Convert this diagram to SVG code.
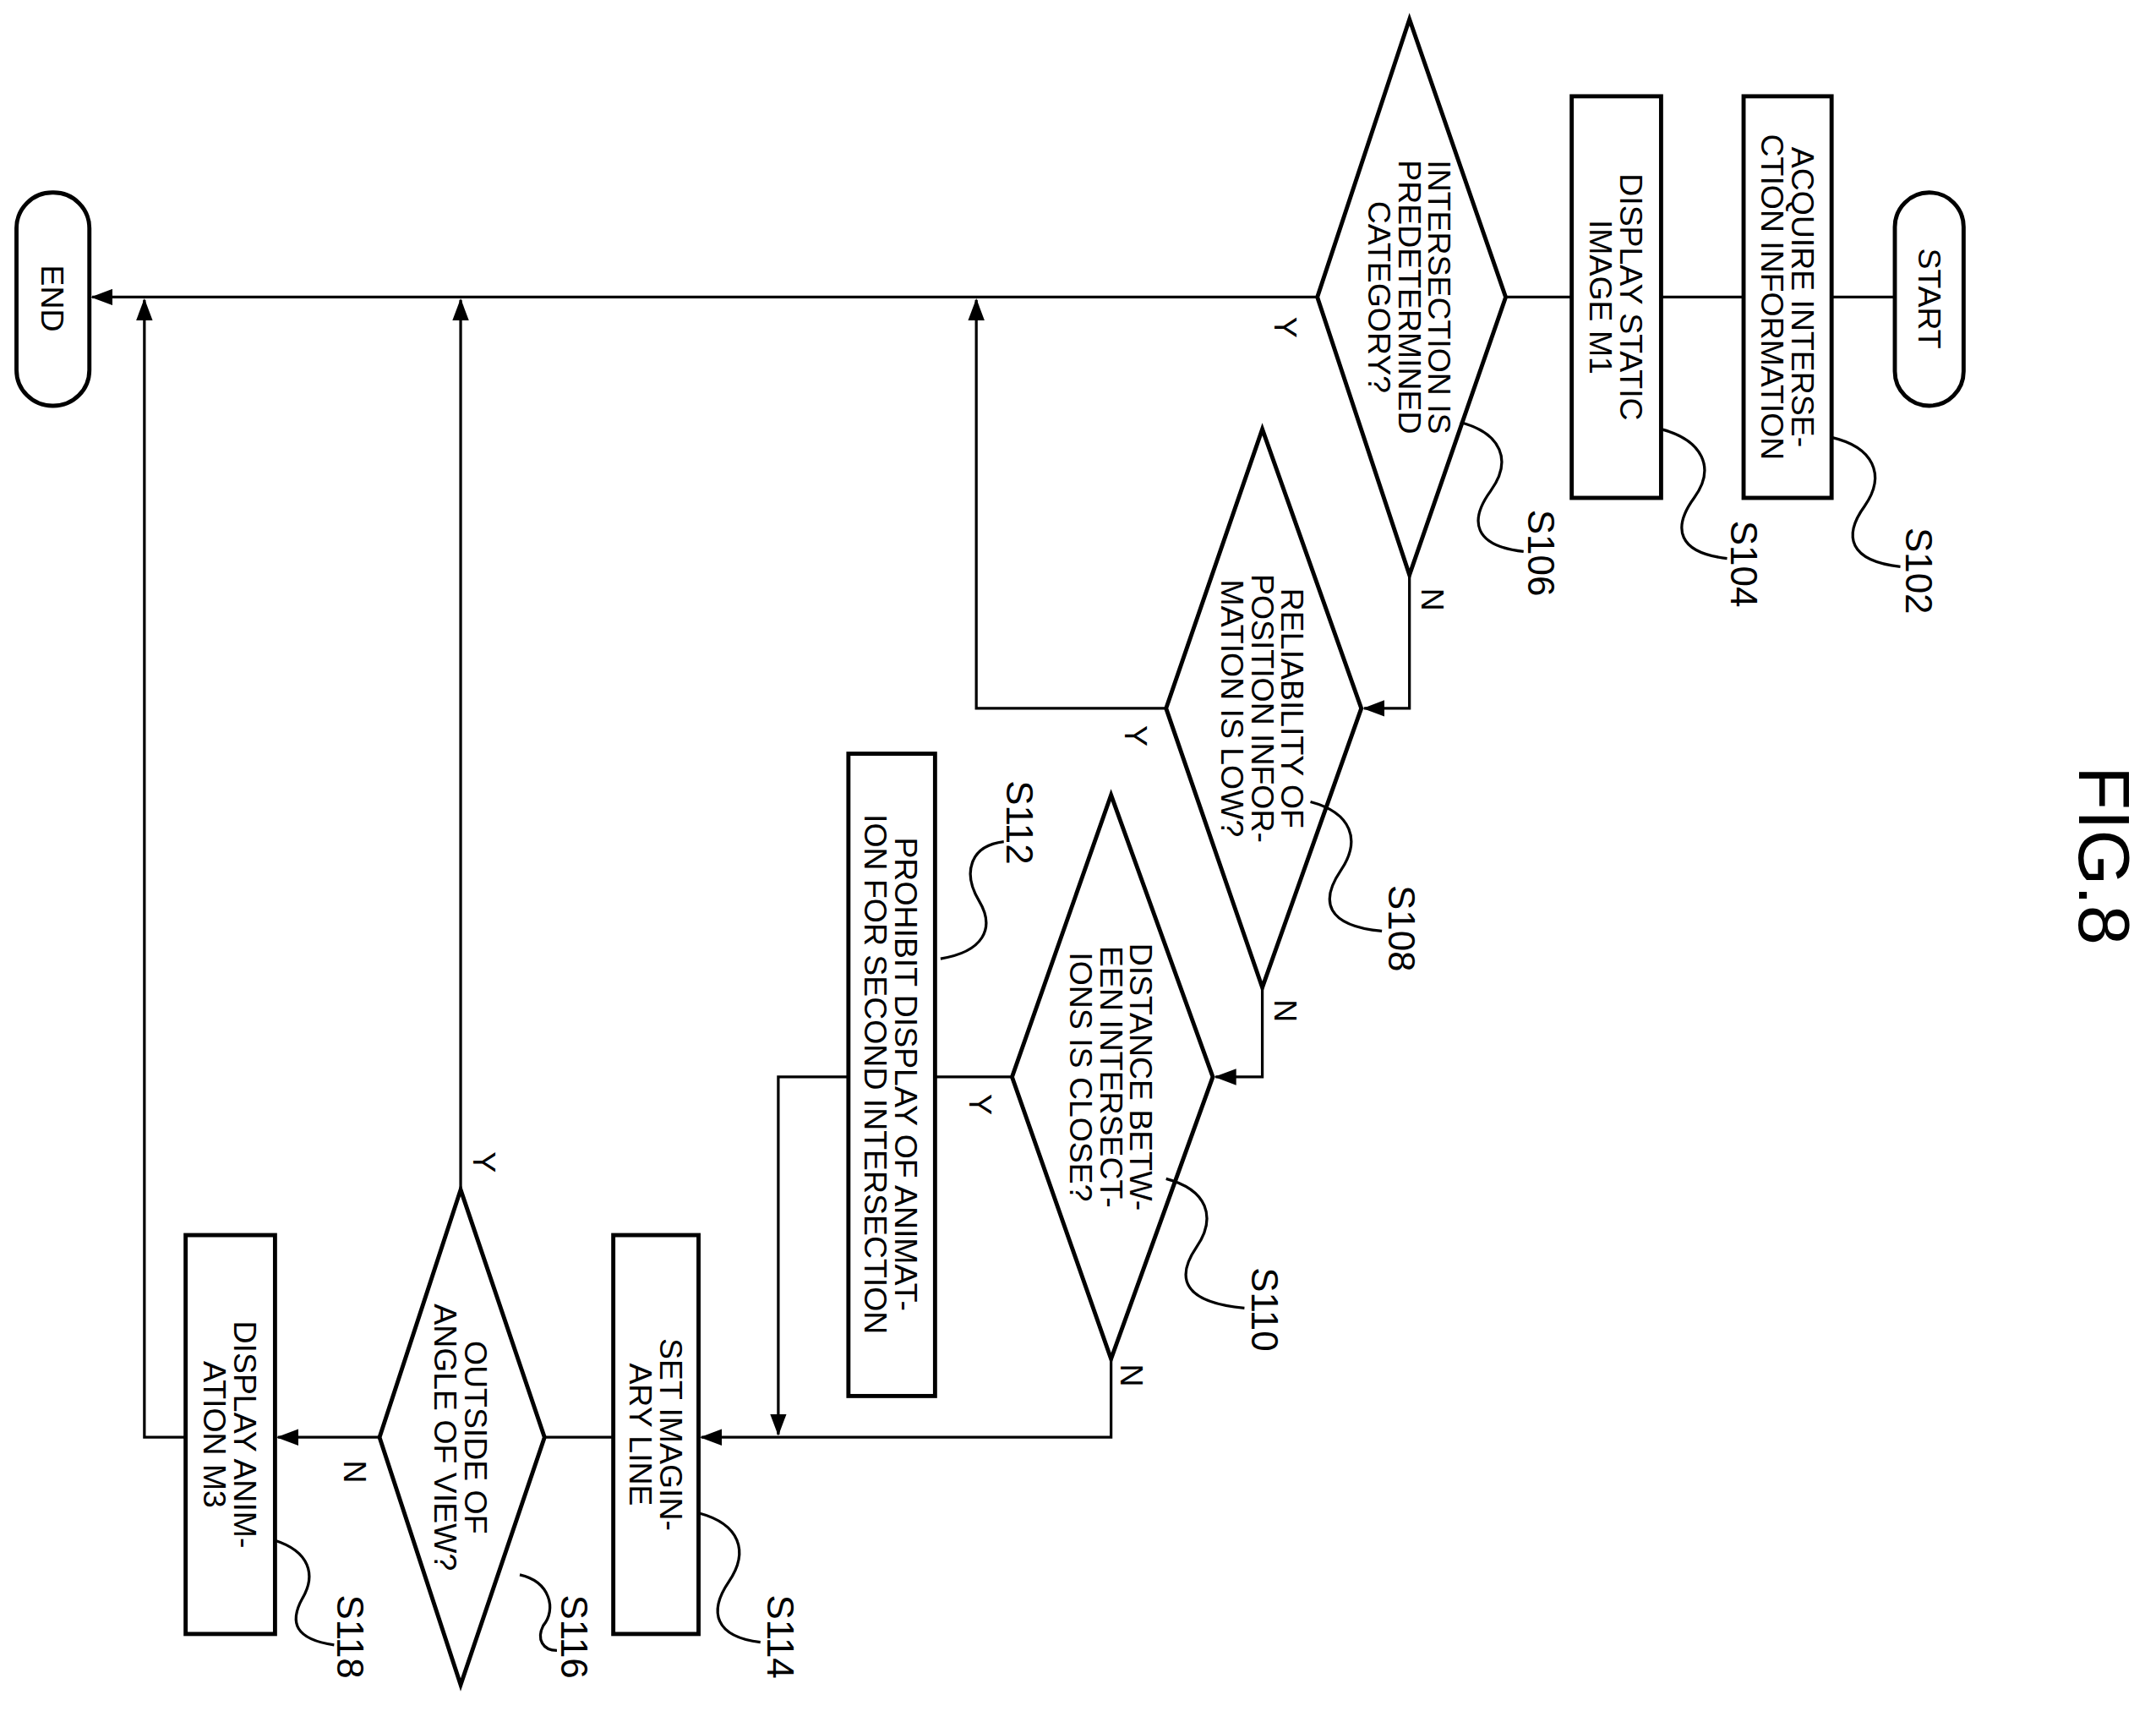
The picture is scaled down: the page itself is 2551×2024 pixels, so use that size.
<svg xmlns="http://www.w3.org/2000/svg" width="2551" height="2024" viewBox="0 0 2551 2024">
<defs>
<style>
.b{fill:#fff;stroke:#000;stroke-width:3}
.l{fill:none;stroke:#000;stroke-width:2}
.t{font-family:"Liberation Sans",Arial,sans-serif;font-size:23px;text-anchor:middle}
.s{font-family:"Liberation Sans",Arial,sans-serif;font-size:27px;text-anchor:middle}
</style>
<marker id="a" markerUnits="userSpaceOnUse" markerWidth="16" markerHeight="12" refX="15" refY="6" orient="auto"><path d="M0,0 L16,6 L0,12 Z" fill="#000"/></marker>
</defs>
<rect width="2551" height="2024" fill="#fff"/>
<g transform="scale(1.627)">
<g id="connectors">
<path class="l" d="M1378,216 H67" marker-end="url(#a)"/>
<path class="l" d="M1025,418 V515 H992" marker-end="url(#a)"/>
<path class="l" d="M848,515 H710 V218" marker-end="url(#a)"/>
<path class="l" d="M918,718 V783 H884" marker-end="url(#a)"/>
<path class="l" d="M736,783 H566 V1043" marker-end="url(#a)"/>
<path class="l" d="M808,988 V1045 H510" marker-end="url(#a)"/>
<path class="l" d="M446,1045 H396"/>
<path class="l" d="M335,865 V218" marker-end="url(#a)"/>
<path class="l" d="M276,1045 H202" marker-end="url(#a)"/>
<path class="l" d="M135,1045 H105 V218" marker-end="url(#a)"/>
</g>
<g id="start"><rect class="b" x="1378" y="140" width="50" height="155" rx="25"/><text class="t" transform="translate(1403,217) rotate(90)" y="8">START</text></g>
<g id="end"><rect class="b" x="12" y="140" width="53" height="155" rx="26"/><text class="t" transform="translate(38,217) rotate(90)" y="8">END</text></g>
<g id="s102"><rect class="b" x="1268" y="70" width="64" height="292"/><text class="t" transform="translate(1300,216) rotate(90)"><tspan x="0" y="-3">ACQUIRE INTERSE-</tspan><tspan x="0" y="19">CTION INFORMATION</tspan></text></g>
<g id="s104"><rect class="b" x="1143" y="70" width="65" height="292"/><text class="t" transform="translate(1175,216) rotate(90)"><tspan x="0" y="-3">DISPLAY STATIC</tspan><tspan x="0" y="19">IMAGE M1</tspan></text></g>
<g id="s106"><path class="b" d="M1025,14 L1095,216 L1025,418 L958,216 Z"/><text class="t" transform="translate(1025,216) rotate(90)"><tspan x="0" y="-14">INTERSECTION IS</tspan><tspan x="0" y="8">PREDETERMINED</tspan><tspan x="0" y="30">CATEGORY?</tspan></text></g>
<g id="s108"><path class="b" d="M918,312 L990,515 L918,718 L848,515 Z"/><text class="t" transform="translate(918,515) rotate(90)"><tspan x="0" y="-14">RELIABILITY OF</tspan><tspan x="0" y="8">POSITION INFOR-</tspan><tspan x="0" y="30">MATION IS LOW?</tspan></text></g>
<g id="s110"><path class="b" d="M808,578 L882,783 L808,988 L736,783 Z"/><text class="t" transform="translate(808,783) rotate(90)"><tspan x="0" y="-14">DISTANCE BETW-</tspan><tspan x="0" y="8">EEN INTERSECT-</tspan><tspan x="0" y="30">IONS IS CLOSE?</tspan></text></g>
<g id="s112"><rect class="b" x="617" y="548" width="63" height="467"/><text class="t" transform="translate(648,781) rotate(90)"><tspan x="0" y="-3">PROHIBIT DISPLAY OF ANIMAT-</tspan><tspan x="0" y="19">ION FOR SECOND INTERSECTION</tspan></text></g>
<g id="s114"><rect class="b" x="446" y="898" width="62" height="290"/><text class="t" transform="translate(477,1043) rotate(90)"><tspan x="0" y="-3">SET IMAGIN-</tspan><tspan x="0" y="19">ARY LINE</tspan></text></g>
<g id="s116"><path class="b" d="M335,865 L396,1045 L335,1225 L276,1045 Z"/><text class="t" transform="translate(335,1045) rotate(90)"><tspan x="0" y="-3">OUTSIDE OF</tspan><tspan x="0" y="19">ANGLE OF VIEW?</tspan></text></g>
<g id="s118"><rect class="b" x="135" y="898" width="65" height="290"/><text class="t" transform="translate(167,1043) rotate(90)"><tspan x="0" y="-3">DISPLAY ANIM-</tspan><tspan x="0" y="19">ATION M3</tspan></text></g>
<g id="yn">
<text class="t" transform="translate(935,238) rotate(90)" y="8">Y</text>
<text class="t" transform="translate(1042,436) rotate(90)" y="8">N</text>
<text class="t" transform="translate(826,535) rotate(90)" y="8">Y</text>
<text class="t" transform="translate(935,735) rotate(90)" y="8">N</text>
<text class="t" transform="translate(713,803) rotate(90)" y="8">Y</text>
<text class="t" transform="translate(823,1000) rotate(90)" y="8">N</text>
<text class="t" transform="translate(352,845) rotate(90)" y="8">Y</text>
<text class="t" transform="translate(258,1070) rotate(90)" y="8">N</text>
</g>
<g id="labels">
<path class="l" d="M1332,318 C1362,325 1372,345 1356,368 C1340,390 1345,408 1382,412"/>
<text class="s" transform="translate(1396,415) rotate(90)" y="10">S102</text>
<path class="l" d="M1208,312 C1238,320 1248,340 1232,362 C1216,384 1220,402 1256,406"/>
<text class="s" transform="translate(1269,410) rotate(90)" y="10">S104</text>
<path class="l" d="M1062,307 C1092,315 1100,335 1084,357 C1068,379 1072,397 1108,401"/>
<text class="s" transform="translate(1121,402) rotate(90)" y="10">S106</text>
<path class="l" d="M953,583 C983,591 990,611 975,633 C960,655 964,673 1005,677"/>
<text class="s" transform="translate(1020,675) rotate(90)" y="10">S108</text>
<path class="l" d="M848,857 C878,865 885,885 870,907 C855,929 860,947 905,951"/>
<text class="s" transform="translate(920,952) rotate(90)" y="10">S110</text>
<path class="l" d="M730,612 C705,615 700,635 712,655 C724,675 715,692 684,697"/>
<text class="s" transform="translate(742,598) rotate(90)" y="10">S112</text>
<path class="l" d="M508,1100 C538,1108 545,1128 530,1150 C515,1172 520,1190 553,1194"/>
<text class="s" transform="translate(568,1190) rotate(90)" y="10">S114</text>
<path class="l" d="M378,1145 C400,1150 405,1170 395,1182 C390,1192 395,1200 405,1200"/>
<text class="s" transform="translate(418,1190) rotate(90)" y="10">S116</text>
<path class="l" d="M200,1120 C225,1128 230,1145 220,1162 C210,1180 215,1192 243,1196"/>
<text class="s" transform="translate(255,1190) rotate(90)" y="10">S118</text>
</g>
<text transform="translate(1530,622) rotate(90)" y="18" style="font-family:'Liberation Sans',Arial,sans-serif;font-size:52px;text-anchor:middle">FIG.8</text>
</g>
</svg>
